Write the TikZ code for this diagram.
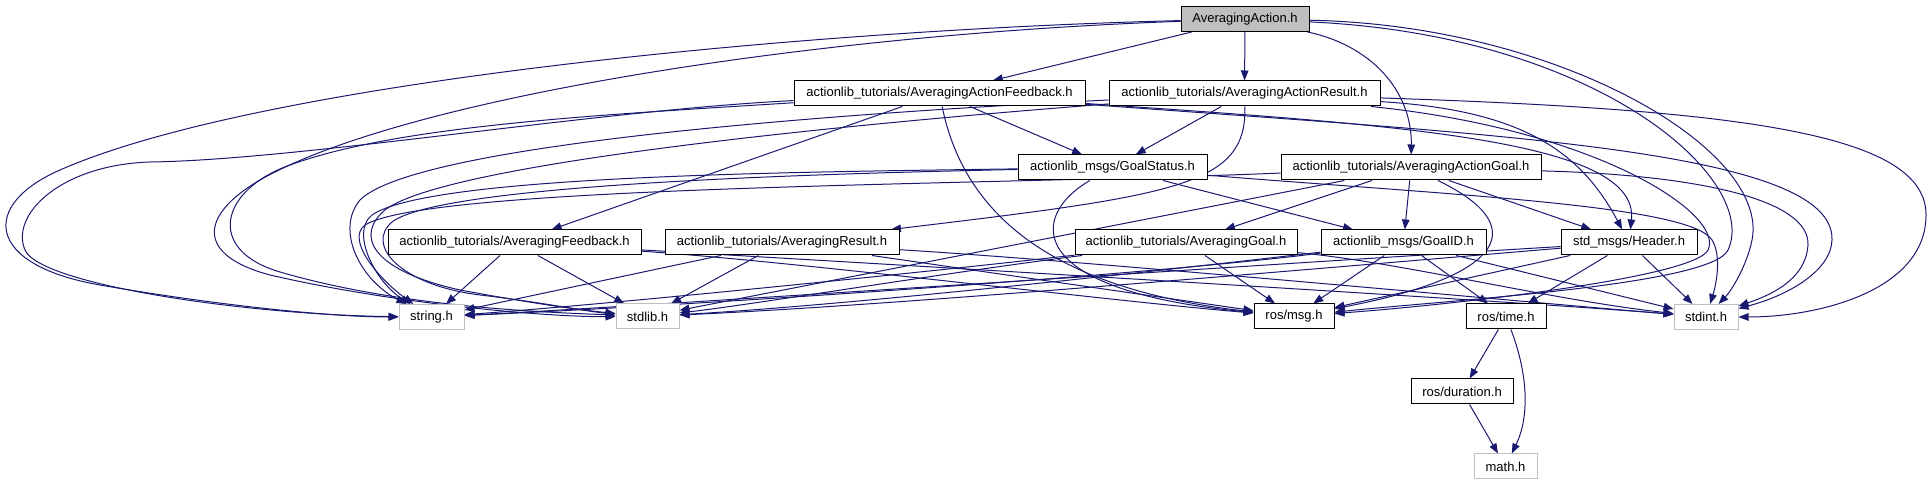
\documentclass[tikz,border=0pt]{standalone}
\usepackage{fontspec}
\setmainfont{Liberation Sans}
\usetikzlibrary{arrows.meta}
\definecolor{edgec}{HTML}{191970}
\definecolor{gbc}{HTML}{BFBFBF}
\pgfdeclarelayer{bg}
\pgfsetlayers{bg,main}
\newcommand\fnt{\fontsize{6.5}{7.8}\selectfont}
\begin{document}
\begin{tikzpicture}[x=0.5pt,y=-0.5pt,
 box/.style={draw=black, line width=0.5pt, fill=white, inner sep=0pt, minimum height=12.5pt, font=\fnt},
 gbox/.style={box, draw=gbc},
 e/.style={draw=edgec, line width=0.5pt, -{Triangle[length=5pt,width=3.8pt]}}]
\useasboundingbox (0,0) rectangle (1932,485);
\node[box, fill=gbc, minimum width=64pt] (AA) at (1245,19) {AveragingAction.h};
\node[box, minimum width=145.5pt] (AAF) at (939.5,93.5) {actionlib\_tutorials/AveragingActionFeedback.h};
\node[box, minimum width=135.5pt] (AAR) at (1244.5,93.5) {actionlib\_tutorials/AveragingActionResult.h};
\node[box, minimum width=94.5pt] (GS) at (1112.5,167.5) {actionlib\_msgs/GoalStatus.h};
\node[box, minimum width=130pt] (AAG) at (1411,167.5) {actionlib\_tutorials/AveragingActionGoal.h};
\node[box, minimum width=126.5pt] (AF) at (514.5,242.5) {actionlib\_tutorials/AveragingFeedback.h};
\node[box, minimum width=117pt] (AR) at (782,242.5) {actionlib\_tutorials/AveragingResult.h};
\node[box, minimum width=111pt] (AG) at (1186,242.5) {actionlib\_tutorials/AveragingGoal.h};
\node[box, minimum width=82.5pt] (GID) at (1403.5,242.5) {actionlib\_msgs/GoalID.h};
\node[box, minimum width=68pt] (HD) at (1629,242.5) {std\_msgs/Header.h};
\node[gbox, minimum width=32.5pt] (STR) at (431.5,317) {string.h};
\node[gbox, minimum width=31.5pt] (STL) at (647.5,316.5) {stdlib.h};
\node[box, minimum width=40pt] (MSG) at (1294,316.5) {ros/msg.h};
\node[box, minimum width=40pt] (TIME) at (1506,316.5) {ros/time.h};
\node[gbox, minimum width=32pt] (STDINT) at (1706,317) {stdint.h};
\node[box, minimum width=51pt] (DUR) at (1462,391.5) {ros/duration.h};
\node[gbox, minimum width=31.5pt] (MATH) at (1505.5,466.5) {math.h};
\begin{pgfonlayer}{bg}
% AveragingAction.h
\draw[e] (AA) -- (AAF);
\draw[e] (AA) -- (AAR);
\draw[e] (AA) .. controls (1370,45) and (1412,90) .. (AAG);
\draw[e] (AA) .. controls (800,30) and (260,82) .. (60,170) .. controls (-20,205) and (-15,265) .. (100,285) .. controls (215,305) and (330,317) .. (STR);
\draw[e] (AA) .. controls (800,35) and (400,100) .. (260,180) .. controls (200,215) and (195,255) .. (270,275) .. controls (400,305) and (550,317) .. (STL);
\draw[e] (AA) .. controls (1600,35) and (1760,180) .. (1728,250) .. controls (1712,285) and (1450,300) .. (MSG);
\draw[e] (AA) .. controls (1560,25) and (1770,150) .. (1752,240) .. controls (1747,265) and (1732,290) .. (STDINT);
% AveragingActionFeedback.h
\draw[e] (AAF) -- (GS);
\draw[e] (AAF) -- (AF);
\draw[e] (AAF) .. controls (965,220) and (1060,290) .. (MSG);
\draw[e] (AAF) .. controls (1400,125) and (1640,140) .. (HD);
\draw[e] (AAF) .. controls (1500,135) and (1835,150) .. (1832,240) .. controls (1831,270) and (1790,295) .. (STDINT);
\draw[e] (AAF) .. controls (600,110) and (300,160) .. (150,162) .. controls (60,165) and (10,215) .. (25,250) .. controls (40,285) and (250,315) .. (STR);
\draw[e] (AAF) .. controls (600,115) and (400,125) .. (290,165) .. controls (220,190) and (205,250) .. (280,272) .. controls (400,307) and (540,312) .. (STL);
% AveragingActionResult.h
\draw[e] (AAR) -- (GS);
\draw[e] (AAR) .. controls (1247,185) and (1180,195) .. (AR);
\draw[e] (AAR) .. controls (1520,110) and (1580,150) .. (HD);
\draw[e] (AAR) .. controls (1600,130) and (1725,215) .. (1708,250) .. controls (1694,278) and (1450,305) .. (MSG);
\draw[e] (AAR) .. controls (1750,110) and (1926,135) .. (1926,215) .. controls (1926,290) and (1820,317) .. (STDINT);
\draw[e] (AAR) .. controls (900,110) and (420,140) .. (360,200) .. controls (335,230) and (360,280) .. (STR);
\draw[e] (AAR) .. controls (900,120) and (450,160) .. (385,210) .. controls (355,235) and (370,270) .. (460,290) .. controls (530,303) and (580,310) .. (STL);
% AveragingActionGoal.h
\draw[e] (AAG) -- (AG);
\draw[e] (AAG) -- (GID);
\draw[e] (AAG) -- (HD);
\draw[e] (AAG) .. controls (1530,225) and (1510,275) .. (MSG);
\draw[e] (AAG) .. controls (1700,175) and (1810,200) .. (1808,245) .. controls (1806,275) and (1780,292) .. (STDINT);
\draw[e] (AAG) -- (STL);
\draw[e] (AAG) .. controls (1000,185) and (430,185) .. (365,225) .. controls (345,240) and (380,280) .. (STR);
% GoalStatus.h
\draw[e] (GS) -- (GID);
\draw[e] (GS) .. controls (1030,215) and (1020,290) .. (MSG);
\draw[e] (GS) .. controls (1450,195) and (1690,205) .. (1712,240) .. controls (1722,256) and (1716,285) .. (STDINT);
\draw[e] (GS) .. controls (800,172) and (430,175) .. (372,215) .. controls (350,232) and (375,282) .. (STR);
\draw[e] (GS) .. controls (800,174) and (440,185) .. (392,222) .. controls (365,245) and (400,285) .. (480,295) .. controls (540,302) and (590,312) .. (STL);
% AveragingFeedback.h
\draw[e] (AF) -- (STR);
\draw[e] (AF) -- (STL);
\draw[e] (AF) .. controls (800,262) and (1100,300) .. (MSG);
\draw[e] (AF) .. controls (900,265) and (1500,300) .. (STDINT);
% AveragingResult.h
\draw[e] (AR) -- (STR);
\draw[e] (AR) -- (STL);
\draw[e] (AR) -- (MSG);
\draw[e] (AR) .. controls (1100,262) and (1500,300) .. (STDINT);
% AveragingGoal.h
\draw[e] (AG) -- (MSG);
\draw[e] (AG) .. controls (900,275) and (600,305) .. (STR);
\draw[e] (AG) .. controls (950,272) and (750,305) .. (STL);
\draw[e] (AG) .. controls (1400,262) and (1550,300) .. (STDINT);
% GoalID.h
\draw[e] (GID) -- (MSG);
\draw[e] (GID) -- (TIME);
\draw[e] (GID) -- (STDINT);
\draw[e] (GID) .. controls (1150,275) and (700,305) .. (STR);
\draw[e] (GID) .. controls (1150,272) and (850,305) .. (STL);
% Header.h
\draw[e] (HD) -- (MSG);
\draw[e] (HD) -- (TIME);
\draw[e] (HD) -- (STDINT);
\draw[e] (HD) .. controls (1300,262) and (650,306) .. (STR);
\draw[e] (HD) .. controls (1300,270) and (900,305) .. (STL);
% ros/time.h and ros/duration.h
\draw[e] (TIME) -- (DUR);
\draw[e] (TIME) .. controls (1530,380) and (1528,420) .. (MATH);
\draw[e] (DUR) -- (MATH);
\end{pgfonlayer}
\end{tikzpicture}
\end{document}
